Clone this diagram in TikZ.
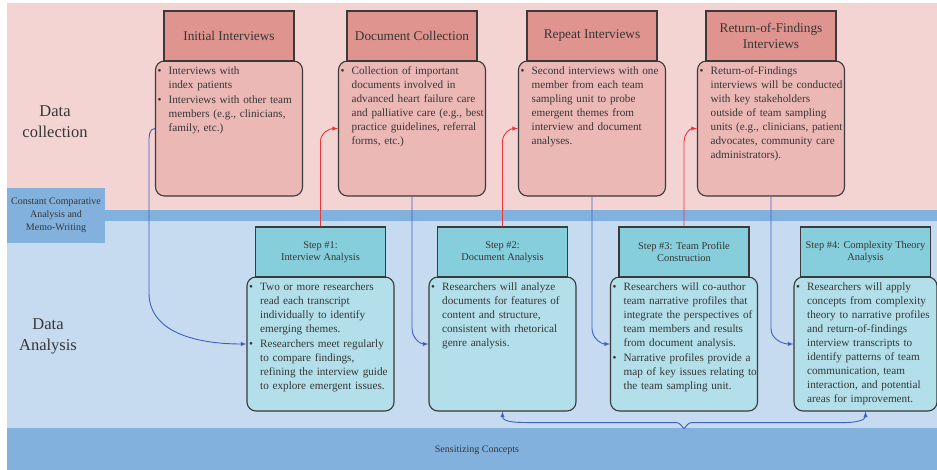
\documentclass[tikz,border=0pt]{standalone}
\usepackage{fontspec}
\setmainfont{Liberation Serif}
\usetikzlibrary{positioning}

\definecolor{pinkbg}{HTML}{F3D4D3}
\definecolor{pinkhead}{HTML}{E0948F}
\definecolor{pinkbody}{HTML}{EBB8B6}
\definecolor{bandblue}{HTML}{83B1DE}
\definecolor{lightblue}{HTML}{C6DBF0}
\definecolor{tealhead}{HTML}{86CEDB}
\definecolor{tealbody}{HTML}{B2DFE9}
\definecolor{edge}{HTML}{3A3A3A}
\definecolor{ink}{HTML}{363636}
\definecolor{linkblue}{HTML}{3E5EC4}
\definecolor{linkred}{HTML}{EE3535}

% bullet item, lines broken by hand
\newcommand{\bul}[1]{\noindent\makebox[11pt][l]{\textbullet}\begin{tabular}[t]{@{}l@{}}#1\end{tabular}\par}

\begin{document}
\begin{tikzpicture}[x=1pt, y=-1pt,
    every node/.style={text=ink},
    colhead/.style={draw=edge, fill=pinkhead, line width=1.1pt, minimum width=130pt, minimum height=50pt, inner sep=0pt, align=center, font=\fontsize{13.3}{16}\selectfont},
    colbody/.style={draw=edge, fill=pinkbody, line width=1.1pt, rounded corners=9pt, minimum width=147pt, minimum height=135pt},
    stephead/.style={colhead, fill=tealhead, font=\fontsize{10.4}{12.5}\selectfont},
    stepbody/.style={colbody, fill=tealbody, minimum height=134pt},
    bodytext/.style={anchor=north west, inner sep=0pt, text width=142pt, align=left, font=\fontsize{11.2}{14}\selectfont},
    sidelabel/.style={align=center, font=\fontsize{16.5}{21}\selectfont},
    fwd/.style={-latex, draw=linkblue, line width=0.9pt},
    feedback/.style={-latex, draw=linkred, line width=0.9pt}]
    \useasboundingbox (0,0) rectangle (937,470);

    % Bands
    \fill[pinkbg] (7,3) rectangle (937,210);
    \fill[bandblue] (7,210) rectangle (937,221);
    \fill[lightblue] (7,221) rectangle (937,428);
    \fill[bandblue] (7,428) rectangle (937,470);

    % Labels on the left and bottom
    \node[sidelabel] (dc) at (55,122) {Data\\collection};
    \node[sidelabel] (da) at (48,336) {Data\\Analysis};
    \node[fill=bandblue, minimum width=98pt, minimum height=55pt, inner sep=0pt, align=center, font=\fontsize{10}{13}\selectfont] (ccm) at (56,215.5) {Constant Comparative\\Analysis and\\Memo-Writing};
    \node[font=\fontsize{10}{11}\selectfont] (sc) at (477,450) {Sensitizing Concepts};

    % Data collection boxes
    \foreach \i/\x/\title in {1/229/Initial Interviews, 2/412/Document Collection, 3/592/Repeat Interviews, 4/771/{Return-of-Findings\\Interviews}}
    {
    \node[colbody] (b\i) at (\x,128.5) {};
    \node[colhead] (h\i) at (\x,36) {\title};
    }

    % Analysis steps
    \foreach \i/\x/\w/\title in {1/320.5/147/{Step \#1:\\Interview Analysis}, 2/502.5/147/{Step \#2:\\Document Analysis}, 3/684/147/{Step \#3: Team Profile\\Construction}, 4/865.5/143/{Step \#4: Complexity Theory\\Analysis}}
    {
    \node[stepbody, minimum width=\w pt] (s\i) at (\x,344) {};
    \node[stephead] (sh\i) at (\x,252) {\title};
    }

    % Box texts
    \node[bodytext] (t1) at ([xshift=2.5pt,yshift=-4pt]b1.north west) {\bul{Interviews with\\index patients}\bul{Interviews with other team\\members (e.g., clinicians,\\family, etc.)}};
    \node[bodytext] (t2) at ([xshift=2.5pt,yshift=-4pt]b2.north west) {\bul{Collection of important\\documents involved in\\advanced heart failure care\\and palliative care (e.g., best\\practice guidelines, referral\\forms, etc.)}};
    \node[bodytext] (t3) at ([xshift=2.5pt,yshift=-4pt]b3.north west) {\bul{Second interviews with one\\member from each team\\sampling unit to probe\\emergent themes from\\interview and document\\analyses.}};
    \node[bodytext] (t4) at ([xshift=2.5pt,yshift=-4pt]b4.north west) {\bul{Return-of-Findings\\interviews will be conducted\\with key stakeholders\\outside of team sampling\\units (e.g., clinicians, patient\\advocates, community care\\administrators).}};

    \node[bodytext] (u1) at ([xshift=2.5pt,yshift=-4pt]s1.north west) {\bul{Two or more researchers\\read each transcript\\individually to identify\\emerging themes.}\bul{Researchers meet regularly\\to compare findings,\\refining the interview guide\\to explore emergent issues.}};
    \node[bodytext] (u2) at ([xshift=2.5pt,yshift=-4pt]s2.north west) {\bul{Researchers will analyze\\documents for features of\\content and structure,\\consistent with rhetorical\\genre analysis.}};
    \node[bodytext] (u3) at ([xshift=2.5pt,yshift=-4pt]s3.north west) {\bul{Researchers will co-author\\team narrative profiles that\\integrate the perspectives of\\team members and results\\from document analysis.}\bul{Narrative profiles provide a\\map of key issues relating to\\the team sampling unit.}};
    \node[bodytext] (u4) at ([xshift=2.5pt,yshift=-4pt]s4.north west) {\bul{Researchers will apply\\concepts from complexity\\theory to narrative profiles\\and return-of-findings\\interview transcripts to\\identify patterns of team\\communication, team\\interaction, and potential\\areas for improvement.}};

    % Collection feeds analysis
    \draw[fwd] (b1.west) to[out=180,in=90] ++(-6,14) -- ++(0,150) to[out=-90,in=180] (s1.west);
    \foreach \i in {2,3,4}
    \draw[fwd] (b\i.south) -- ++(0,132) to[out=-90,in=180] (s\i.west);

    % Analysis sends back to next collection
    \foreach \i/\j in {1/2,2/3,3/4}
    \draw[feedback] (sh\i.north) -- ++(0,-85) to[out=90,in=180] (b\j.west);

    % Brace under steps 2 to 4
    \coordinate (tip) at ([yshift=-17pt]s3.south);
    \draw[latex-latex, draw=linkblue, line width=0.9pt] (s2.south) to[out=-90,in=180] ++(25,11) -- ([xshift=-8pt,yshift=6pt]tip) to[out=0,in=135] (tip) to[out=45,in=180] ([xshift=8pt,yshift=6pt]tip) -- ([xshift=-20pt,yshift=-11pt]s4.south) to[out=0,in=-90] (s4.south);
\end{tikzpicture}
\end{document}
